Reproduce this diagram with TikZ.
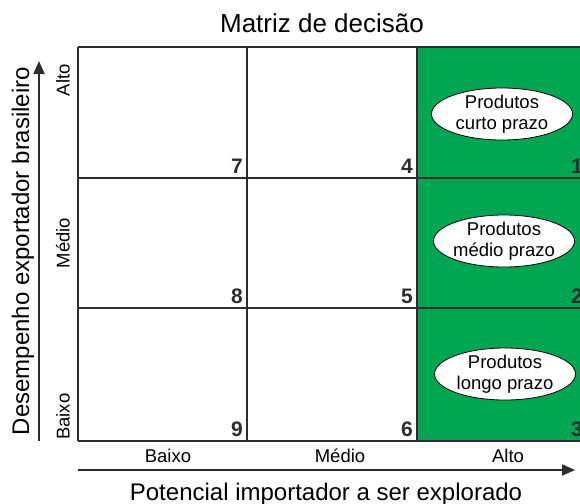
\documentclass[tikz,border=0pt]{standalone}
\usepackage{fontspec}
\setmainfont{Liberation Sans}
\usetikzlibrary{shapes.geometric,arrows.meta}
\definecolor{matgreen}{RGB}{0,166,81}
\definecolor{gridgray}{RGB}{45,45,45}

\begin{document}
\begin{tikzpicture}[x=1pt,y=-1pt,
    gridline/.style={draw=gridgray,line width=1.2pt},
    axisarrow/.style={draw=gridgray,line width=2pt,-{Triangle[length=13pt,width=11pt]}},
    cellnum/.style={anchor=base east,inner sep=0pt,text=gridgray,
      font=\fontsize{21}{21}\selectfont\bfseries},
    prod/.style={ellipse,draw,fill=white,line width=0.8pt,inner sep=-2pt,
      minimum width=141pt,minimum height=52pt,align=center,
      font=\fontsize{18.5}{21}\selectfont},
    lvl/.style={inner sep=0pt,font=\fontsize{18.5}{18.5}\selectfont},
    axislabel/.style={inner sep=0pt,font=\fontsize{24}{24}\selectfont}]
  \useasboundingbox (0,0) rectangle (580,503);
  \clip (0,0) rectangle (580,503);

  % green column
  \fill[matgreen] (418,47) rectangle (587,441);

  % grid
  \foreach \y in {47,178,308,441}
    \draw[gridline] (78,\y) -- (587,\y);
  \foreach \x in {78,247,417}
    \draw[gridline] (\x,47) -- (\x,441);

  % cell numbers
  \foreach \c/\xr in {0/243,1/413,2/583}
    \foreach \r/\yb in {0/173,1/303,2/436} {
      \pgfmathtruncatemacro{\num}{7-3*\c+\r}
      \node[cellnum] (n\num) at (\xr,\yb) {\num};
    }

  % products
  \node[prod] (curto) at (502,114) {Produtos\\curto prazo};
  \node[prod] (medio) at (504,241) {Produtos\\médio prazo};
  \node[prod] (longo) at (505,374) {Produtos\\longo prazo};

  % title
  \node[inner sep=0pt,anchor=base,font=\fontsize{26}{26}\selectfont] (title) at (322,33) {Matriz de decisão};

  % axes
  \coordinate (ybot) at (39,441);
  \coordinate (ytop) at (39,61);
  \coordinate (xleft) at (78,470);
  \coordinate (xright) at (575,470);
  \draw[axisarrow] (ybot) -- (ytop);
  \draw[axisarrow] (xleft) -- (xright);

  \node[axislabel,rotate=90] (ylabel) at (23,251) {Desempenho exportador brasileiro};
  \node[axislabel,anchor=base] (xlabel) at (326,500) {Potencial importador a ser explorado};

  % levels
  \node[lvl,rotate=90,anchor=east] (yalto) at (63,64) {Alto};
  \node[lvl,rotate=90] (ymedio) at (63,243) {Médio};
  \node[lvl,rotate=90,anchor=west] (ybaixo) at (63,440) {Baixo};
  \node[lvl,anchor=base] (xbaixo) at (168,462) {Baixo};
  \node[lvl,anchor=base] (xmedio) at (340,462) {Médio};
  \node[lvl,anchor=base] (xalto) at (508,462) {Alto};
\end{tikzpicture}
\end{document}
